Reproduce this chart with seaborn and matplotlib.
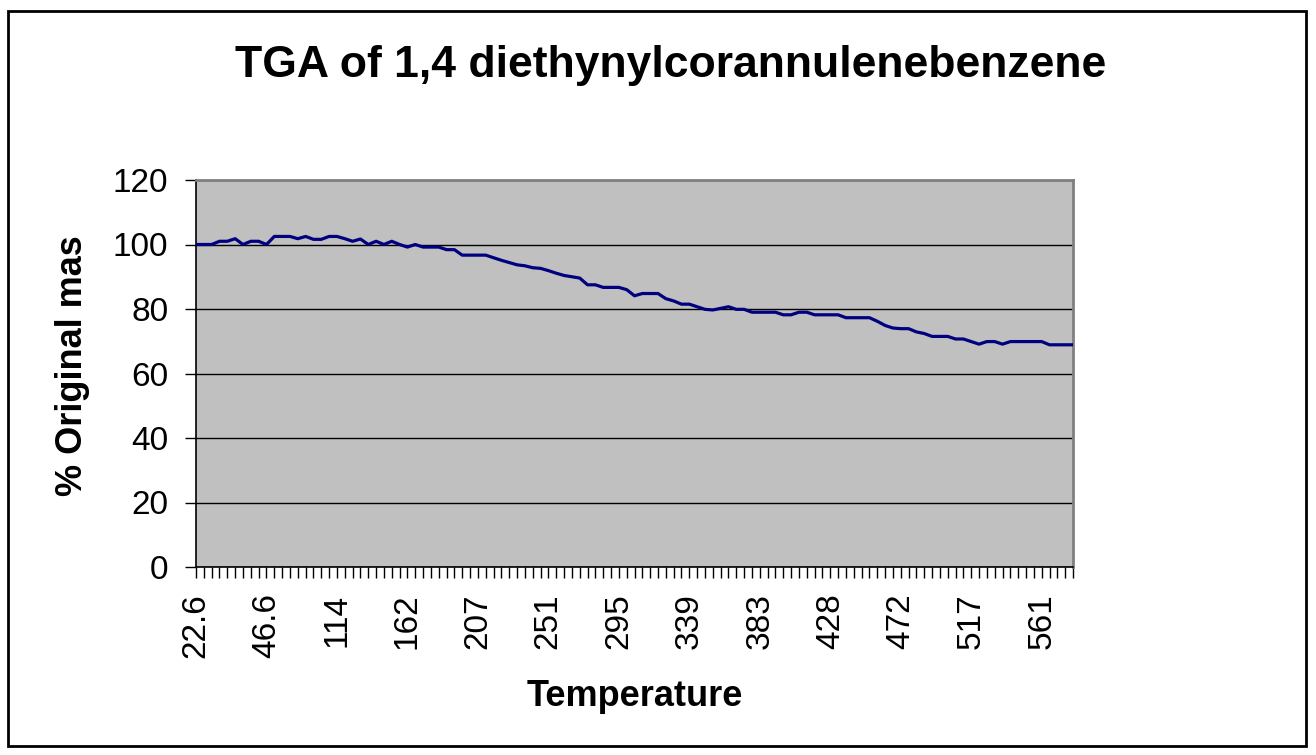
import numpy as np
import pandas as pd
import matplotlib
matplotlib.use('Agg')
import matplotlib.pyplot as plt
from matplotlib.patches import Rectangle
import seaborn as sns

mass = [100, 100, 100, 101, 101, 101.8, 100, 101, 101, 100,
        102.5, 102.5, 102.5, 101.8, 102.5, 101.6, 101.6, 102.5, 102.5, 101.8,
        101, 101.7, 100, 101, 100, 101, 100, 99.2, 100, 99.2,
        99.2, 99.2, 98.4, 98.4, 96.7, 96.7, 96.7, 96.7, 95.9, 95.1,
        94.4, 93.7, 93.4, 92.8, 92.6, 91.9, 91.1, 90.4, 90, 89.6,
        87.5, 87.5, 86.7, 86.7, 86.7, 86, 84.1, 84.8, 84.8, 84.8,
        83.2, 82.5, 81.5, 81.5, 80.7, 79.9, 79.7, 80.2, 80.7, 79.9,
        79.9, 79, 79, 79, 79, 78.2, 78.2, 79, 79, 78.2,
        78.2, 78.2, 78.2, 77.3, 77.3, 77.3, 77.3, 76.2, 74.9, 74.1,
        73.9, 73.9, 72.9, 72.4, 71.5, 71.5, 71.5, 70.7, 70.7, 69.9,
        69.1, 69.9, 69.9, 69.1, 69.9, 69.9, 69.9, 69.9, 69.9, 68.9,
        68.9, 68.9, 68.9]

# temperature labels shown on the category axis (every 9th sample)
temp_labels = ['22.6', '46.6', '114', '162', '207', '251', '295',
               '339', '383', '428', '472', '517', '561']
label_step = 9

y_ticks = [0, 20, 40, 60, 80, 100, 120]

title = 'TGA of 1,4 diethynylcorannulenebenzene'
x_title = 'Temperature'
y_title = '% Original mas'

df = pd.DataFrame({'sample': np.arange(len(mass)), 'mass': mass})

sns.set_style('white', {'axes.facecolor': '#C0C0C0'})
plt.rcParams['font.family'] = ['Liberation Sans', 'DejaVu Sans']
plt.rcParams['text.color'] = 'black'
plt.rcParams['axes.labelcolor'] = 'black'
plt.rcParams['xtick.color'] = 'black'
plt.rcParams['ytick.color'] = 'black'

W, H = 1316, 755
fig = plt.figure(figsize=(W / 100, H / 100), dpi=100)
fig.patches.append(Rectangle((8 / W, (H - 746) / H), 1298 / W, 735 / H,
                             transform=fig.transFigure, fill=False,
                             edgecolor='black', linewidth=2))

ax = fig.add_axes([196 / W, (H - 567) / H, 877 / W, 387 / H])
sns.lineplot(data=df, x='sample', y='mass', ax=ax, color='#000080',
             linewidth=2.3, zorder=3)

ax.set_xlim(0, len(mass) - 1)
ax.set_ylim(0, 120)
ax.set_yticks(y_ticks)
ax.set_yticklabels([str(v) for v in y_ticks], fontsize=24)
ax.yaxis.grid(True, color='black', linewidth=1)
ax.set_axisbelow(True)

ax.set_xticks(np.arange(len(mass)), minor=True)
ax.set_xticks(np.arange(len(temp_labels)) * label_step)
ax.set_xticklabels(temp_labels, rotation=90, fontsize=24)
ax.tick_params(axis='x', which='both', direction='out', length=8, width=1,
               color='black', bottom=True, pad=11)
ax.tick_params(axis='y', direction='out', length=8, width=1, color='black',
               left=True, pad=12)

for side in ['top', 'right']:
    ax.spines[side].set_color('#808080')
    ax.spines[side].set_linewidth(2)
for side in ['left', 'bottom']:
    ax.spines[side].set_color('black')
    ax.spines[side].set_linewidth(1.2)

ax.set_xlabel(x_title, fontsize=26, fontweight='bold', va='center')
ax.xaxis.set_label_coords(0.5, (567 - 697) / 387)
ax.set_ylabel(y_title, fontsize=26, fontweight='bold', va='center')
ax.yaxis.set_label_coords((72 - 196) / 877, 0.52)
fig.text(671 / W, 1 - 66 / H, title, ha='center', va='center',
         fontsize=32, fontweight='bold')

fig.savefig('out.png', dpi=100)
